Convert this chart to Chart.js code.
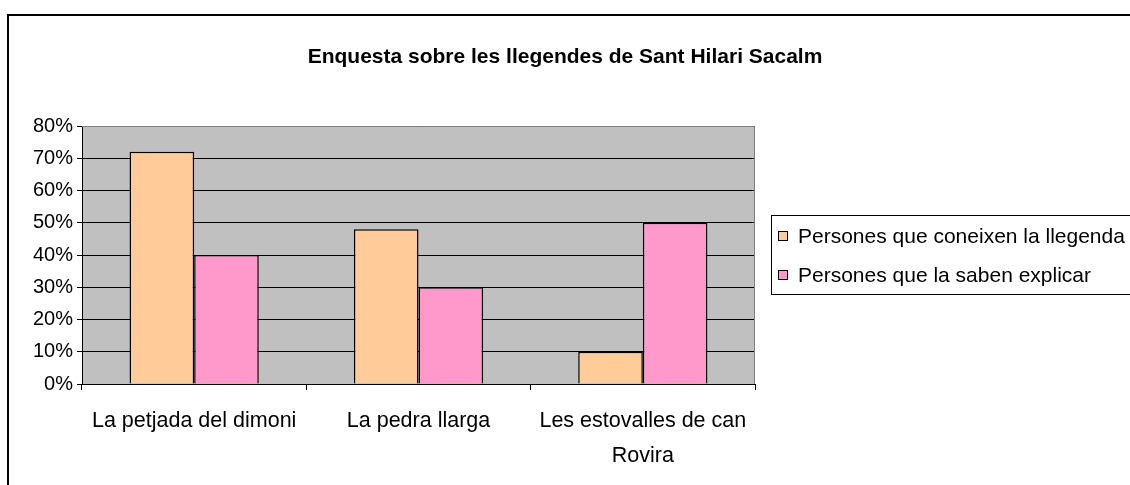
<!DOCTYPE html>
<html>
<head>
<meta charset="utf-8">
<script src="https://cdn.jsdelivr.net/npm/chart.js@4.4.0/dist/chart.umd.min.js"></script>
<style>
  html, body { margin: 0; padding: 0; background: #fff; }
  #wrap { width: 1130px; height: 485px; }
</style>
</head>
<body>
<div id="wrap"><canvas id="c" width="1130" height="485"></canvas></div>
<script>
/* dades de l'enquesta */
const chartTitle = 'Enquesta sobre les llegendes de Sant Hilari Sacalm';
const categories = ['La petjada del dimoni', 'La pedra llarga', ['Les estovalles de can', 'Rovira']];
const seriesNames = ['Persones que coneixen la llegenda', 'Persones que la saben explicar'];
const coneixen = [72, 48, 10];
const expliquen = [40, 30, 50];
const yTicks = [0, 10, 20, 30, 40, 50, 60, 70, 80];

const FONT = "'Liberation Sans', Arial, sans-serif";

/* fons gris + vora exterior + títol + llegenda amb marc */
const decor = {
  id: 'decor',
  beforeDraw(chart) {
    const { ctx, chartArea: a } = chart;
    ctx.save();
    ctx.fillStyle = '#fff';
    ctx.fillRect(0, 0, chart.width, chart.height);
    ctx.fillStyle = '#c0c0c0';
    ctx.fillRect(a.left, a.top, a.right - a.left, a.bottom - a.top);
    ctx.restore();
  },
  afterDatasetsDraw(chart) {
    const { ctx, chartArea: a } = chart;
    ctx.save();
    // vora grisa superior i dreta de l'area
    ctx.strokeStyle = '#808080';
    ctx.lineWidth = 1;
    ctx.beginPath();
    ctx.moveTo(a.left, a.top + 0.5);
    ctx.lineTo(a.right - 0.5, a.top + 0.5);
    ctx.lineTo(a.right - 0.5, a.bottom);
    ctx.stroke();
    ctx.restore();
  },
  afterDraw(chart) {
    const { ctx } = chart;
    ctx.save();
    // vora del grafic
    ctx.strokeStyle = '#000';
    ctx.lineWidth = 2;
    ctx.strokeRect(8, 15, chart.width + 10, chart.height + 10);
    // títol
    ctx.fillStyle = '#000';
    ctx.font = 'bold 21px ' + FONT;
    ctx.textAlign = 'center';
    ctx.textBaseline = 'middle';
    ctx.fillText(chartTitle, 565, 57);
    // llegenda
    ctx.textAlign = 'left';
    ctx.lineWidth = 1;
    ctx.strokeRect(771.5, 215.5, 400, 79);
    ctx.font = '21px ' + FONT;
    const rows = [236, 275];
    chart.data.datasets.forEach((ds, i) => {
      const y = rows[i];
      ctx.fillStyle = ds.backgroundColor;
      ctx.fillRect(778.5, y - 4.5, 9, 9);
      ctx.strokeStyle = '#000';
      ctx.strokeRect(778.5, y - 4.5, 9, 9);
      ctx.fillStyle = '#000';
      ctx.fillText(ds.label, 798, y + 1);
    });
    ctx.restore();
  }
};

new Chart(document.getElementById('c'), {
  type: 'bar',
  data: {
    labels: categories,
    datasets: [
      { label: seriesNames[0], data: coneixen, backgroundColor: '#ffcc99', borderColor: '#000', borderWidth: 1.5 },
      { label: seriesNames[1], data: expliquen, backgroundColor: '#ff99cc', borderColor: '#000', borderWidth: 1.5 }
    ]
  },
  options: {
    responsive: false,
    animation: false,
    devicePixelRatio: 1,
    layout: { padding: { left: 0, right: 375, top: 126, bottom: 0 } },
    categoryPercentage: 0.576,
    barPercentage: 1,
    plugins: {
      legend: { display: false },
      tooltip: { enabled: false },
      title: { display: false }
    },
    scales: {
      x: {
        grid: { offset: true, drawOnChartArea: false, color: '#000', tickLength: 6, tickWidth: 1 },
        border: { color: '#000', width: 1 },
        ticks: { color: '#000', font: { family: FONT, size: 21.5, lineHeight: 1.6 }, padding: 14, maxRotation: 0, autoSkip: false },
        afterFit(s) { s.height = 101; }
      },
      y: {
        min: 0, max: 80,
        afterBuildTicks(s) { s.ticks = yTicks.map(v => ({ value: v })); },
        grid: { color: '#000', tickLength: 5, lineWidth: 1 },
        border: { color: '#000', width: 1 },
        ticks: { color: '#000', font: { family: FONT, size: 20 }, padding: 4, callback: v => v + '%' },
        afterFit(s) { s.width = 82; }
      }
    }
  },
  plugins: [decor]
});
</script>
</body>
</html>
